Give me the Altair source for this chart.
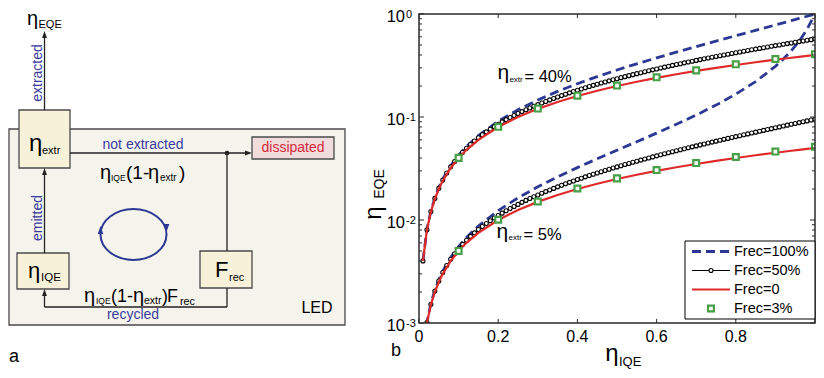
import altair as alt
import pandas as pd

FONT = "Liberation Sans"
BLUE_TXT = "#3b3b9e"
BLUE_LINE = "#2c3894"
RED = "#e02a2a"
GREEN = "#46a046"
DARK = "#2b2b2b"

# ---------------- panel b: values ----------------
iqe_fine = [round(0.01 * i, 2) for i in range(1, 101)]
frec50_extr40 = [
    0.00401, 0.00805, 0.0121, 0.0162, 0.0203, 0.0244, 0.0286, 0.0328, 0.0370, 0.0412,
    0.0455, 0.0498, 0.0541, 0.0585, 0.0628, 0.0672, 0.0717, 0.0761, 0.0806, 0.0851,
    0.0897, 0.0942, 0.0988, 0.1035, 0.1081, 0.1128, 0.1175, 0.1223, 0.1271, 0.1319,
    0.1367, 0.1416, 0.1465, 0.1514, 0.1564, 0.1614, 0.1665, 0.1716, 0.1767, 0.1818,
    0.1870, 0.1922, 0.1975, 0.2028, 0.2081, 0.2135, 0.2189, 0.2243, 0.2298, 0.2353,
    0.2409, 0.2464, 0.2521, 0.2578, 0.2635, 0.2692, 0.2750, 0.2809, 0.2868, 0.2927,
    0.2987, 0.3047, 0.3107, 0.3168, 0.3230, 0.3292, 0.3354, 0.3417, 0.3480, 0.3544,
    0.3609, 0.3673, 0.3739, 0.3805, 0.3871, 0.3938, 0.4005, 0.4073, 0.4142, 0.4211,
    0.4280, 0.4350, 0.4421, 0.4492, 0.4564, 0.4636, 0.4709, 0.4783, 0.4857, 0.4932,
    0.5007, 0.5083, 0.5160, 0.5237, 0.5315, 0.5393, 0.5473, 0.5552, 0.5633, 0.5714,
]
frec50_extr5 = [  # from iqe = 0.02
    0.00101, 0.00152, 0.00204, 0.00256, 0.00309, 0.00362, 0.00416, 0.00470, 0.00525,
    0.00580, 0.00636, 0.00693, 0.00750, 0.00808, 0.00866, 0.00925, 0.00984, 0.01044, 0.01105,
    0.01166, 0.01228, 0.01291, 0.01354, 0.01418, 0.01483, 0.01549, 0.01615, 0.01682, 0.01749,
    0.01818, 0.01887, 0.01957, 0.02027, 0.02099, 0.02171, 0.02245, 0.02319, 0.02393, 0.02469,
    0.02546, 0.02623, 0.02702, 0.02781, 0.02862, 0.02943, 0.03025, 0.03109, 0.03193, 0.03279,
    0.03365, 0.03453, 0.03542, 0.03632, 0.03723, 0.03815, 0.03908, 0.04003, 0.04099, 0.04196,
    0.04294, 0.04394, 0.04495, 0.04598, 0.04702, 0.04807, 0.04914, 0.05022, 0.05132, 0.05243,
    0.05357, 0.05471, 0.05587, 0.05706, 0.05825, 0.05947, 0.06070, 0.06195, 0.06323, 0.06452,
    0.06583, 0.06716, 0.06851, 0.06988, 0.07128, 0.07270, 0.07414, 0.07560, 0.07709, 0.07860,
    0.08014, 0.08171, 0.08330, 0.08491, 0.08656, 0.08824, 0.08994, 0.09168, 0.09344, 0.09524,
]
iqe_coarse = [0.01, 0.02, 0.03, 0.04, 0.05, 0.06, 0.08, 0.10, 0.12, 0.15, 0.20, 0.25,
              0.30, 0.35, 0.40, 0.45, 0.50, 0.55, 0.60, 0.65, 0.70, 0.75, 0.80, 0.85,
              0.90, 0.92, 0.94, 0.96, 0.98, 1.00]
frec100_extr40 = [0.004024, 0.008097, 0.01222, 0.01639, 0.02062, 0.02490, 0.03361, 0.04255,
                  0.05172, 0.06593, 0.09091, 0.11765, 0.14634, 0.17722, 0.21053, 0.24658,
                  0.28571, 0.32836, 0.375, 0.42623, 0.48276, 0.54545, 0.61538, 0.69388,
                  0.78261, 0.82143, 0.86239, 0.90566, 0.95146, 1.0]
frec100_extr5 = [0.000505, 0.001019, 0.001544, 0.002079, 0.002625, 0.003181, 0.004329, 0.005525,
                 0.006772, 0.008746, 0.012346, 0.016393, 0.020979, 0.026217, 0.032258, 0.039301,
                 0.047619, 0.057592, 0.069767, 0.084967, 0.104478, 0.130435, 0.166667, 0.220779,
                 0.310345, 0.365079, 0.439252, 0.545455, 0.710145, 1.0]
frec0_extr40 = [0.004, 0.008, 0.012, 0.016, 0.02, 0.024, 0.032, 0.04, 0.048, 0.06, 0.08, 0.1,
                0.12, 0.14, 0.16, 0.18, 0.2, 0.22, 0.24, 0.26, 0.28, 0.3, 0.32, 0.34, 0.36,
                0.368, 0.376, 0.384, 0.392, 0.4]
frec0_extr5 = [0.0005, 0.001, 0.0015, 0.002, 0.0025, 0.003, 0.004, 0.005, 0.006, 0.0075, 0.01,
               0.0125, 0.015, 0.0175, 0.02, 0.0225, 0.025, 0.0275, 0.03, 0.0325, 0.035, 0.0375,
               0.04, 0.0425, 0.045, 0.046, 0.047, 0.048, 0.049, 0.05]
iqe_marks = [0.1, 0.2, 0.3, 0.4, 0.5, 0.6, 0.7, 0.8, 0.9, 1.0]
frec3_extr40 = [0.0401, 0.0803, 0.1207, 0.1612, 0.2018, 0.2426, 0.2836, 0.3247, 0.3659, 0.4073]
frec3_extr5 = [0.00501, 0.01006, 0.01513, 0.02023, 0.02536, 0.03052, 0.03571, 0.04093, 0.04618, 0.05147]

ann_x = [0.198, 0.196]
ann_y = [0.221, 0.00634]
ann_text = ["= 40%", "= 5%"]

x_ticks = [0, 0.2, 0.4, 0.6, 0.8, 1.0]
x_tick_labels = ["0", "0.2", "0.4", "0.6", "0.8", ""]
y_major = [0.001, 0.01, 0.1, 1.0]
y_major_exp = ["-3", "-2", "-1", "0"]
y_minor = [0.002, 0.003, 0.004, 0.005, 0.006, 0.007, 0.008, 0.009,
           0.02, 0.03, 0.04, 0.05, 0.06, 0.07, 0.08, 0.09,
           0.2, 0.3, 0.4, 0.5, 0.6, 0.7, 0.8, 0.9]
legend_labels = ["Frec=100%", "Frec=50%", "Frec=0", "Frec=3%"]

# ---------------- panel a: diagram layout (page-like units) ----------------
box_x1 = [9, 19, 17, 200, 252]
box_x2 = [345, 70, 69, 252, 334]
box_y1 = [128, 109, 252, 250, 136]
box_y2 = [324, 167, 288, 287, 158]
box_fill = ["#f5f4ec", "#f7f1da", "#f7f1da", "#f7f1da", "#f0dcdc"]

seg_x1 = [44.5, 44.5, 70, 227, 227, 227, 44.5]
seg_y1 = [109, 252, 152, 152, 287, 306, 306]
seg_x2 = [44.5, 44.5, 246, 227, 227, 44.5, 44.5]
seg_y2 = [36, 172, 152, 250, 306, 306, 293]

UP = "M0,-1L0.7,1L-0.7,1Z"
DOWN = "M0,1L0.7,-1L-0.7,-1Z"
RIGHT = "M1,0L-1,0.7L-1,-0.7Z"
pt_x = [44.5, 44.5, 44.5, 248.5, 227, 100.5, 166.5]
pt_y = [33.5, 170.5, 291.5, 152, 152, 229, 227]
pt_shape = [UP, UP, UP, RIGHT, "circle", UP, DOWN]
pt_color = ["#222222"] * 5 + [BLUE_LINE, BLUE_LINE]
pt_size = [49, 49, 49, 49, 22, 64, 64]

# left-aligned texts (baseline alphabetic)
tl_x = [27, 38.5, 29, 42, 100, 111, 126, 148, 160, 179, 28, 41, 215, 229,
        84, 96, 111, 133, 144, 162, 167, 180, 9]
tl_y = [24, 27, 150, 153, 177.5, 179.5, 177.5, 177.5, 179.5, 177.5, 277, 280, 275.5, 280,
        300.5, 302.5, 300.5, 300.5, 302.5, 300.5, 300.5, 303.5, 361]
tl_t = ["η", "EQE", "η", "extr", "η", "IQE", "(1-", "η", "extr", ")", "η", "IQE", "F", "rec",
        "η", "IQE", "(1-", "η", "extr", ")", "F", "rec", "a"]
tl_fs = [20, 11, 24, 11, 20, 8.5, 19, 20, 10, 19, 22, 11.5, 22, 11,
         20, 8.5, 18, 20, 10.5, 18, 18, 10.8, 18]

tc_x = [143, 293, 133, 317, 38, 38]
tc_y = [144, 147, 314, 307, 72, 217]
tc_t = ["not extracted", "dissipated", "recycled", "LED", "extracted", "emitted"]
tc_fs = [14, 14, 14, 16, 14, 14]
tc_c = [BLUE_TXT, "#d42a3c", BLUE_TXT, "black", BLUE_TXT, BLUE_TXT]
tc_ang = [0, 0, 0, 0, 270, 270]

# ---------------- build diagram panel ----------------
W, H = 396, 309
DW, DH = 411, H
DX = alt.X("x:Q", scale=alt.Scale(domain=[8, 8 + DW], nice=False, zero=False), axis=None)
DY = alt.Y("y:Q", scale=alt.Scale(domain=[13, 13 + DH], reverse=True, nice=False, zero=False), axis=None)

box_df = pd.DataFrame({"x": box_x1, "x2": box_x2, "y": box_y1, "y2": box_y2, "f": box_fill})
seg_df = pd.DataFrame({"x": seg_x1, "y": seg_y1, "x2": seg_x2, "y2": seg_y2})
pt_df = pd.DataFrame({"x": pt_x, "y": pt_y, "s": pt_shape, "c": pt_color, "z": pt_size})
tl_df = pd.DataFrame({"x": tl_x, "y": tl_y, "t": tl_t, "fs": tl_fs})
tc_df = pd.DataFrame({"x": tc_x, "y": tc_y, "t": tc_t, "fs": tc_fs, "c": tc_c, "a": tc_ang})
ell_df = pd.DataFrame({"x": [133.5], "y": [233.5]})

d_boxes = alt.Chart(box_df).mark_rect(stroke="#4a4a4a", strokeWidth=1.3).encode(
    x=DX, x2="x2:Q", y=DY, y2="y2:Q", fill=alt.Fill("f:N", scale=None))
d_segs = alt.Chart(seg_df).mark_rule(color="#222222", strokeWidth=1.3).encode(
    x=DX, x2="x2:Q", y=DY, y2="y2:Q")
d_pts = alt.Chart(pt_df).mark_point(filled=True, opacity=1).encode(
    x=DX, y=DY, shape=alt.Shape("s:N", scale=None), color=alt.Color("c:N", scale=None),
    size=alt.Size("z:Q", scale=None))
d_ell = alt.Chart(ell_df).mark_point(
    shape="M-1,0A1,0.77 0 1,1 1,0A1,0.77 0 1,1 -1,0", size=4356, filled=False,
    stroke=BLUE_LINE, strokeWidth=2, opacity=1).encode(x=DX, y=DY)
d_tl = alt.Chart(tl_df).mark_text(align="left", baseline="alphabetic", color="black", font=FONT).encode(
    x=DX, y=DY, text="t:N", size=alt.Size("fs:Q", scale=None))
d_tc = alt.Chart(tc_df).mark_text(align="center", baseline="middle", font=FONT).encode(
    x=DX, y=DY, text="t:N", size=alt.Size("fs:Q", scale=None),
    color=alt.Color("c:N", scale=None), angle=alt.Angle("a:Q", scale=None))

diagram = alt.layer(d_boxes, d_segs, d_ell, d_pts, d_tl, d_tc).properties(width=DW, height=DH)

# ---------------- build plot panel ----------------
X = alt.X("iqe:Q", scale=alt.Scale(domain=[0, 1], nice=False, zero=False), axis=None)
Y = alt.Y("eqe:Q", scale=alt.Scale(type="log", domain=[0.001, 1], nice=False), axis=None)


def series(xs, ys, key):
    return pd.DataFrame({"iqe": xs, "eqe": ys, "extr": key})


dash_df = pd.concat([series(iqe_coarse, frec100_extr40, "40"), series(iqe_coarse, frec100_extr5, "5")])
b_df = pd.concat([series(iqe_fine, frec50_extr40, "40"), series(iqe_fine[1:], frec50_extr5, "5")])
r_df = pd.concat([series(iqe_coarse, frec0_extr40, "40"), series(iqe_coarse, frec0_extr5, "5")])
g_df = pd.concat([series(iqe_marks, frec3_extr40, "40"), series(iqe_marks, frec3_extr5, "5")])
one = pd.DataFrame({"k": [0]})

layers = []
layers.append(alt.Chart(dash_df).mark_line(color=BLUE_LINE, strokeWidth=2.8, strokeDash=[9, 5], clip=True)
              .encode(x=X, y=Y, detail="extr:N"))
layers.append(alt.Chart(b_df).mark_line(color="black", strokeWidth=1, clip=True)
              .encode(x=X, y=Y, detail="extr:N"))
layers.append(alt.Chart(b_df).mark_point(shape="circle", size=16, filled=True, fill="white", stroke="black",
                                         strokeWidth=1.1, opacity=1, clip=True).encode(x=X, y=Y))
layers.append(alt.Chart(r_df).mark_line(color=RED, strokeWidth=2.2, clip=True)
              .encode(x=X, y=Y, detail="extr:N"))
layers.append(alt.Chart(g_df).mark_point(shape="square", size=34, filled=True, fill="white", stroke=GREEN,
                                         strokeWidth=2.2, opacity=1, clip=True).encode(x=X, y=Y))

# frame and inward ticks
layers.append(alt.Chart(one).mark_rect(fillOpacity=0, stroke=DARK, strokeWidth=1.5).encode(
    x=alt.value(0), x2=alt.value(W), y=alt.value(0), y2=alt.value(H)))
xt_df = pd.DataFrame({"iqe": x_ticks, "lab": x_tick_labels})
ymaj_df = pd.DataFrame({"eqe": y_major, "exp": y_major_exp})
ymin_df = pd.DataFrame({"eqe": y_minor})
layers.append(alt.Chart(xt_df).mark_rule(color=DARK, strokeWidth=1).encode(x=X, y=alt.value(H), y2=alt.value(H - 4)))
layers.append(alt.Chart(xt_df).mark_rule(color=DARK, strokeWidth=1).encode(x=X, y=alt.value(0), y2=alt.value(4)))
layers.append(alt.Chart(ymaj_df).mark_rule(color=DARK, strokeWidth=1).encode(y=Y, x=alt.value(0), x2=alt.value(5)))
layers.append(alt.Chart(ymaj_df).mark_rule(color=DARK, strokeWidth=1).encode(y=Y, x=alt.value(W), x2=alt.value(W - 5)))
layers.append(alt.Chart(ymin_df).mark_rule(color=DARK, strokeWidth=1).encode(y=Y, x=alt.value(0), x2=alt.value(3)))
layers.append(alt.Chart(ymin_df).mark_rule(color=DARK, strokeWidth=1).encode(y=Y, x=alt.value(W), x2=alt.value(W - 3)))

# tick labels
layers.append(alt.Chart(xt_df).mark_text(fontSize=16, align="center", baseline="middle", font=FONT)
              .encode(x=X, y=alt.value(H + 14), text="lab:N"))
layers.append(alt.Chart(ymaj_df).mark_text(text="10", fontSize=16.5, align="right", baseline="alphabetic",
                                           dy=8, font=FONT).encode(y=Y, x=alt.value(-14)))
layers.append(alt.Chart(ymaj_df).mark_text(fontSize=11, align="left", baseline="alphabetic", dy=3.5, font=FONT)
              .encode(y=Y, x=alt.value(-13), text="exp:N"))

# axis titles and panel label
layers.append(alt.Chart(one).mark_text(text="η", fontSize=24, align="center", baseline="alphabetic", font=FONT)
              .encode(x=alt.value(193), y=alt.value(H + 38)))
layers.append(alt.Chart(one).mark_text(text="IQE", fontSize=13, align="left", baseline="alphabetic", font=FONT)
              .encode(x=alt.value(200), y=alt.value(H + 43)))
layers.append(alt.Chart(one).mark_text(text="η", fontSize=24, angle=270, align="center", baseline="middle", font=FONT)
              .encode(x=alt.value(-45), y=alt.value(199)))
layers.append(alt.Chart(one).mark_text(text="EQE", fontSize=14, angle=270, align="center", baseline="middle", font=FONT)
              .encode(x=alt.value(-39), y=alt.value(170)))
layers.append(alt.Chart(one).mark_text(text="b", fontSize=18, align="center", baseline="middle", font=FONT)
              .encode(x=alt.value(-23), y=alt.value(H + 28)))

# curve annotations
ann_df = pd.DataFrame({"iqe": ann_x, "eqe": ann_y, "rest": ann_text})
layers.append(alt.Chart(ann_df).mark_text(text="η", fontSize=21, align="left", baseline="alphabetic", dy=-2.4, font=FONT)
              .encode(x=X, y=Y))
layers.append(alt.Chart(ann_df).mark_text(text="extr", fontSize=8, align="left", baseline="alphabetic", dx=12, font=FONT)
              .encode(x=X, y=Y))
layers.append(alt.Chart(ann_df).mark_text(fontSize=16.5, align="left", baseline="alphabetic", dx=27, font=FONT)
              .encode(x=X, y=Y, text="rest:N"))

# legend
LX0, LX1 = W - 130, W
LY0, LY1 = H - 82, H - 4
SX0, SX1 = W - 123, W - 85
SXM = (SX0 + SX1) / 2
row_y = [(LY0 + LY1) / 2 + 19 * (i - 1.5) for i in range(4)]
layers.append(alt.Chart(one).mark_rect(fill="white", stroke="black", strokeWidth=1).encode(
    x=alt.value(LX0), x2=alt.value(LX1), y=alt.value(LY0), y2=alt.value(LY1)))
layers.append(alt.Chart(one).mark_rule(color=BLUE_LINE, strokeWidth=2.8, strokeDash=[9, 5]).encode(
    x=alt.value(SX0), x2=alt.value(SX1), y=alt.value(row_y[0])))
layers.append(alt.Chart(one).mark_rule(color="black", strokeWidth=1).encode(
    x=alt.value(SX0), x2=alt.value(SX1), y=alt.value(row_y[1])))
layers.append(alt.Chart(one).mark_point(shape="circle", size=16, filled=True, fill="white", stroke="black",
                                        strokeWidth=1.1, opacity=1).encode(x=alt.value(SXM), y=alt.value(row_y[1])))
layers.append(alt.Chart(one).mark_rule(color=RED, strokeWidth=2.2).encode(
    x=alt.value(SX0), x2=alt.value(SX1), y=alt.value(row_y[2])))
layers.append(alt.Chart(one).mark_point(shape="square", size=34, filled=True, fill="white", stroke=GREEN,
                                        strokeWidth=2.2, opacity=1).encode(x=alt.value(SXM), y=alt.value(row_y[3])))
for lab, ry in zip(legend_labels, row_y):
    layers.append(alt.Chart(one).mark_text(text=lab, fontSize=14.5, align="left", baseline="middle", font=FONT)
                  .encode(x=alt.value(SX1 + 4), y=alt.value(ry)))

plot = alt.layer(*layers).properties(width=W, height=H)

chart = (
    alt.hconcat(diagram, plot, spacing=0, bounds="flush")
    .properties(padding=0)
    .configure(font=FONT)
    .configure_view(strokeWidth=0)
)
chart.save("out.html", embed_options={"renderer": "svg", "actions": False})
